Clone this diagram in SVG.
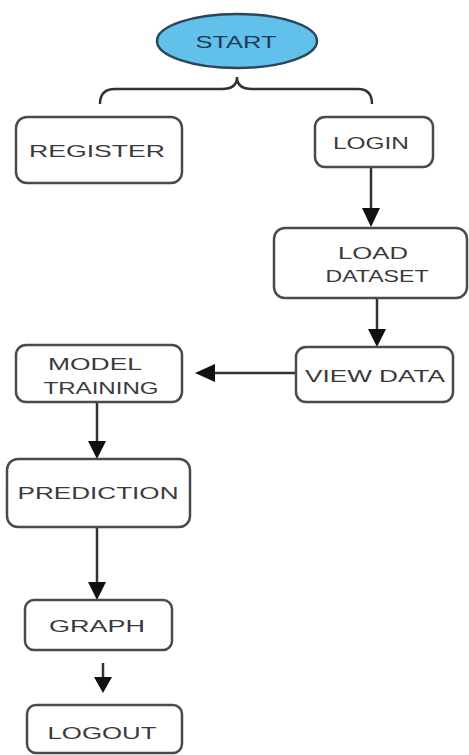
<svg xmlns="http://www.w3.org/2000/svg" width="469" height="755" viewBox="0 0 469 755">
<style>
.box{fill:#fff;stroke:#4a4a4a;stroke-width:2.5}
.t{font-family:"Liberation Sans",Arial,sans-serif;font-size:17px;fill:#3a3a3a;text-anchor:middle}
.c{fill:none;stroke:#333;stroke-width:2.5}
</style>
<defs>
<marker id="ah" viewBox="0 0 10 10" refX="10" refY="5" markerWidth="6" markerHeight="6" markerUnits="userSpaceOnUse" orient="auto">
<path d="M0,0 L10,5 L0,10 Z" fill="#111"/>
</marker>
</defs>
<rect width="469" height="755" fill="#fff"/>
<g id="connectors">
<path class="c" d="M100,104 Q100,89 115,89 L222,89 Q237,89 237,77 Q237,89 252,89 L358,89 Q372,89 372,104" stroke-width="2.2"/>
<line x1="371" y1="167" x2="371" y2="210" class="c"/>
<path d="M362,208 L380,208 L371,227 Z" fill="#111"/>
<line x1="377" y1="298" x2="377" y2="330" class="c"/>
<path d="M368,329 L386,329 L377,347 Z" fill="#111"/>
<line x1="296" y1="373" x2="214" y2="373" class="c"/>
<path d="M215,364 L215,382 L195,373 Z" fill="#111"/>
<line x1="97" y1="402" x2="97" y2="443" class="c"/>
<path d="M88,441 L106,441 L97,459 Z" fill="#111"/>
<line x1="97" y1="527" x2="97" y2="583" class="c"/>
<path d="M88,582 L106,582 L97,600 Z" fill="#111"/>
<line x1="103" y1="663" x2="103" y2="678" class="c"/>
<path d="M94,677 L112,677 L103,693 Z" fill="#111"/>
</g>
<g id="start">
<ellipse cx="237" cy="41" rx="80" ry="27" fill="#62c1ea" stroke="#2b4658" stroke-width="2.5"/>
<text class="t" x="236" y="48" textLength="81" lengthAdjust="spacingAndGlyphs" style="fill:#1f3a55">START</text>
</g>
<g id="register">
<rect class="box" x="16" y="117" width="166" height="66" rx="11"/>
<text class="t" x="97" y="157" textLength="136" lengthAdjust="spacingAndGlyphs">REGISTER</text>
</g>
<g id="login">
<rect class="box" x="315" y="117" width="118" height="50" rx="10"/>
<text class="t" x="371" y="149" textLength="76" lengthAdjust="spacingAndGlyphs">LOGIN</text>
</g>
<g id="load-dataset">
<rect class="box" x="274" y="228" width="193" height="70" rx="11"/>
<text class="t" x="373" y="259" textLength="70" lengthAdjust="spacingAndGlyphs">LOAD</text>
<text class="t" x="377" y="282" textLength="103" lengthAdjust="spacingAndGlyphs">DATASET</text>
</g>
<g id="view-data">
<rect class="box" x="296" y="347" width="157" height="55" rx="10"/>
<text class="t" x="375" y="382" textLength="140" lengthAdjust="spacingAndGlyphs">VIEW DATA</text>
</g>
<g id="model-training">
<rect class="box" x="16" y="345" width="166" height="57" rx="10"/>
<text class="t" x="95" y="370" textLength="94" lengthAdjust="spacingAndGlyphs">MODEL</text>
<text class="t" x="101" y="394" textLength="115" lengthAdjust="spacingAndGlyphs">TRAINING</text>
</g>
<g id="prediction">
<rect class="box" x="7" y="459" width="183" height="68" rx="11"/>
<text class="t" x="98" y="499" textLength="161" lengthAdjust="spacingAndGlyphs">PREDICTION</text>
</g>
<g id="graph">
<rect class="box" x="25" y="600" width="147" height="50" rx="9"/>
<text class="t" x="97" y="632" textLength="96" lengthAdjust="spacingAndGlyphs">GRAPH</text>
</g>
<g id="logout">
<rect class="box" x="27" y="705" width="155" height="48" rx="9"/>
<text class="t" x="102" y="739" textLength="109" lengthAdjust="spacingAndGlyphs">LOGOUT</text>
</g>
</svg>
